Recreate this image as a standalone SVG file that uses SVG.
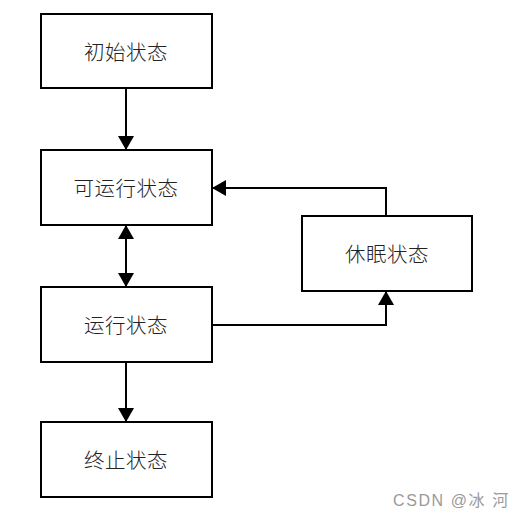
<svg xmlns="http://www.w3.org/2000/svg" width="528" height="519" viewBox="0 0 528 519">
<style>
.box{fill:#fff;stroke:#000;stroke-width:2}
.lbl{font-family:"Noto Sans CJK SC","Liberation Sans",sans-serif;font-size:20.5px;font-weight:300;fill:#222;text-anchor:middle;dominant-baseline:central;letter-spacing:0.5px}
.ln{fill:none;stroke:#000;stroke-width:2}
.wm{font-family:"Liberation Sans","Noto Sans CJK SC",sans-serif;font-size:16px;fill:#9a9a9a;letter-spacing:1.6px}
</style>
<defs>
<marker id="ah" viewBox="0 0 14 16" refX="14" refY="8" markerWidth="14" markerHeight="16" markerUnits="userSpaceOnUse" orient="auto-start-reverse">
<path d="M0,0 L14,8 L0,16 Z" fill="#000"/>
</marker>
</defs>
<rect width="528" height="519" fill="#fff"/>
<g id="connectors">
<path class="ln" d="M126,88 V150" marker-end="url(#ah)"/>
<path class="ln" d="M126,225 V287" marker-start="url(#ah)" marker-end="url(#ah)"/>
<path class="ln" d="M126,362 V422" marker-end="url(#ah)"/>
<path class="ln" d="M212,325 H386 V291" marker-end="url(#ah)"/>
<path class="ln" d="M386,216 V188 H212" marker-end="url(#ah)"/>
</g>
<g id="init"><rect class="box" x="41" y="14" width="171" height="74"/><text class="lbl" x="126" y="51">初始状态</text></g>
<g id="runnable"><rect class="box" x="41" y="150" width="171" height="75"/><text class="lbl" x="126" y="187">可运行状态</text></g>
<g id="running"><rect class="box" x="41" y="287" width="171" height="75"/><text class="lbl" x="126" y="324">运行状态</text></g>
<g id="terminated"><rect class="box" x="41" y="422" width="171" height="75"/><text class="lbl" x="126" y="459">终止状态</text></g>
<g id="sleep"><rect class="box" x="302" y="216" width="170" height="75"/><text class="lbl" x="387" y="253">休眠状态</text></g>
<text class="wm" x="393" y="506">CSDN @冰 河</text>
</svg>
